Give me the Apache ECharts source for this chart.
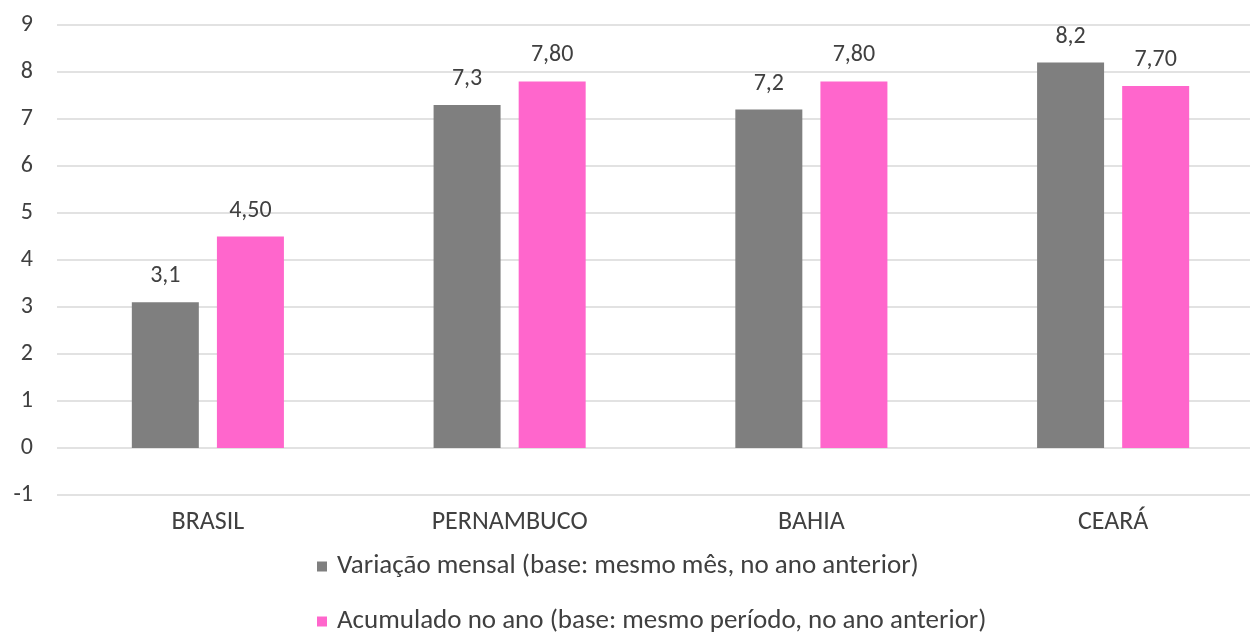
<!DOCTYPE html>
<html>
<head>
<meta charset="utf-8">
<script src="https://cdn.jsdelivr.net/npm/echarts@6/dist/echarts.min.js"></script>
<style>
  html, body { margin: 0; padding: 0; background: #fff; overflow: hidden; }
  #chart { width: 1264px; height: 632px; }
</style>
</head>
<body>
<div id="chart"></div>
<script>
// categorias e valores
var categorias = ["BRASIL", "PERNAMBUCO", "BAHIA", "CEARÁ"];
var variacaoMensal = [3.1, 7.3, 7.2, 8.2];
var acumuladoAno = [4.5, 7.8, 7.8, 7.7];
var nomeMensal = "Variação mensal (base: mesmo mês, no ano anterior)";
var nomeAcumulado = "Acumulado no ano (base: mesmo período, no ano anterior)";

var fonte = "Carlito, 'Open Sans', 'Noto Sans', sans-serif";
var corTexto = "#404040";

function virgula(casas) {
  return function (p) {
    return p.value.toFixed(casas).replace(".", ",");
  };
}

function legenda(nome, topo) {
  return {
    left: 312,
    top: topo,
    itemWidth: 10,
    itemHeight: 10,
    itemGap: 0,
    icon: "rect",
    textStyle: {
      fontSize: 27,
      color: corTexto,
      fontFamily: fonte,
      padding: [0, 0, 0, 5]
    },
    data: [nome]
  };
}

var chart = echarts.init(document.getElementById("chart"));
chart.setOption({
  animation: false,
  textStyle: { fontFamily: fonte },
  // o gráfico original está cortado à direita, por isso o div é mais largo
  grid: { left: 57, right: 0, top: 25, bottom: 137 },
  legend: [legenda(nomeMensal, 548), legenda(nomeAcumulado, 603)],
  xAxis: {
    type: "category",
    data: categorias,
    axisLine: { show: false },
    axisTick: { show: false },
    axisLabel: { fontSize: 26, color: corTexto, margin: 14 }
  },
  yAxis: {
    type: "value",
    min: -1,
    max: 9,
    interval: 1,
    axisLine: { show: false },
    axisTick: { show: false },
    axisLabel: { fontSize: 24, color: corTexto, margin: 24 },
    splitLine: { lineStyle: { color: "#d9d9d9", width: 1.5 } }
  },
  series: [
    {
      name: nomeMensal,
      type: "bar",
      data: variacaoMensal,
      barWidth: 67,
      barGap: "27%",
      itemStyle: { color: "#7f7f7f" },
      label: {
        show: true,
        position: "top",
        distance: 14,
        fontSize: 24,
        color: corTexto,
        formatter: virgula(1)
      }
    },
    {
      name: nomeAcumulado,
      type: "bar",
      data: acumuladoAno,
      barWidth: 67,
      itemStyle: { color: "#ff66cc" },
      label: {
        show: true,
        position: "top",
        distance: 14,
        fontSize: 24,
        color: corTexto,
        formatter: virgula(2)
      }
    }
  ]
});
</script>
</body>
</html>
